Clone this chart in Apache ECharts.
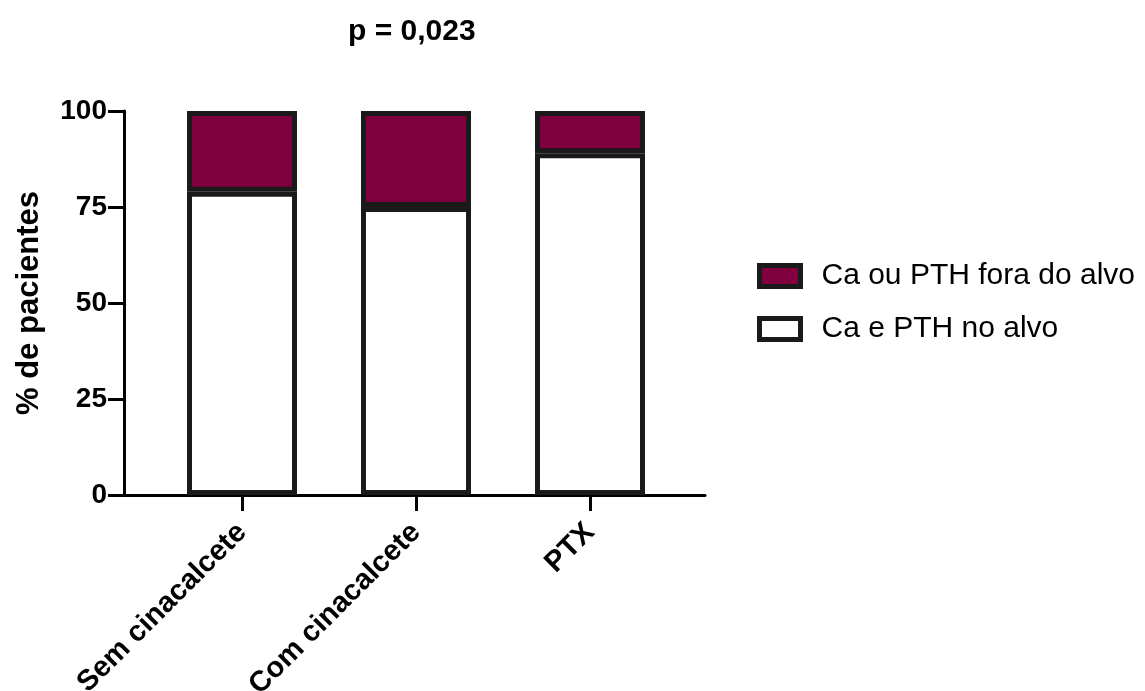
<!DOCTYPE html>
<html>
<head>
<meta charset="utf-8">
<script src="https://cdn.jsdelivr.net/npm/echarts@6/dist/echarts.min.js"></script>
<style>
html,body{margin:0;padding:0;background:#fff;}
#chart{width:1145px;height:691px;}
</style>
</head>
<body>
<div id="chart"></div>
<script>
var categories = ['Sem cinacalcete', 'Com cinacalcete', 'PTX'];
var noAlvo = [79, 75, 89];
var foraAlvo = [21, 25, 11];
var yTicks = [0, 25, 50, 75, 100];
var seriesNames = ['Ca e PTH no alvo', 'Ca ou PTH fora do alvo'];
var titleText = 'p = 0,023';
var yName = '% de pacientes';

var FONT = 'Liberation Sans, Arial, sans-serif';

var chart = echarts.init(document.getElementById('chart'), null, {renderer: 'canvas'});
chart.setOption({
  animation: false,
  backgroundColor: '#ffffff',
  title: {
    text: titleText,
    left: 348,
    top: 17,
    padding: 0,
    textStyle: {fontFamily: FONT, fontSize: 30, fontWeight: 'bold', color: '#000', lineHeight: 30}
  },
  legend: {
    orient: 'vertical',
    left: 757,
    top: 261,
    padding: 0,
    itemWidth: 41,
    itemHeight: 21,
    itemGap: 23,
    icon: 'rect',
    data: [seriesNames[1], seriesNames[0]],
    itemStyle: {borderWidth: 5, borderColor: '#1a1a1a'},
    textStyle: {fontFamily: FONT, fontSize: 30, color: '#000', lineHeight: 30, padding: [0, 0, 0, 16]}
  },
  grid: [
    {left: 124, right: 440, top: 111, bottom: 196, containLabel: false, outerBoundsMode: 'none'},
    {left: 155, right: 468, top: 111, bottom: 196, containLabel: false, outerBoundsMode: 'none'}
  ],
  xAxis: [
    {
      gridIndex: 0,
      type: 'value',
      min: 0,
      max: 1,
      splitLine: {show: false},
      axisLine: {show: true, onZero: false, lineStyle: {color: '#000', width: 3}},
      axisTick: {show: false},
      axisLabel: {show: false}
    },
    {
      gridIndex: 1,
      type: 'category',
      data: categories,
      boundaryGap: true,
      axisLine: {show: false, onZero: false},
      axisTick: {show: true, alignWithLabel: true, length: 16, lineStyle: {color: '#000', width: 3}},
      axisLabel: {
        show: true,
        interval: 0,
        rotate: 45,
        margin: 33,
        fontFamily: FONT, fontSize: 29, fontWeight: 'bold', color: '#000'
      }
    }
  ],
  yAxis: [
    {
      gridIndex: 0,
      type: 'value',
      min: yTicks[0],
      max: yTicks[yTicks.length - 1],
      interval: 25,
      name: yName,
      nameLocation: 'middle',
      nameGap: 79,
      nameRotate: 90,
      nameTextStyle: {fontFamily: FONT, fontSize: 31, fontWeight: 'bold', color: '#000'},
      splitLine: {show: false},
      axisLine: {show: true, onZero: false, lineStyle: {color: '#000', width: 3}},
      axisTick: {show: true, length: 16, lineStyle: {color: '#000', width: 3}},
      axisLabel: {
        margin: 17,
        fontFamily: FONT, fontSize: 28, fontWeight: 'bold', color: '#000'
      }
    },
    {
      gridIndex: 1,
      type: 'value',
      min: yTicks[0],
      max: yTicks[yTicks.length - 1],
      show: false
    }
  ],
  series: [
    {
      name: seriesNames[0],
      type: 'bar',
      xAxisIndex: 1,
      yAxisIndex: 1,
      stack: 'total',
      barWidth: 110,
      data: noAlvo,
      itemStyle: {color: '#ffffff', borderColor: '#1a1a1a', borderWidth: 5}
    },
    {
      name: seriesNames[1],
      type: 'bar',
      xAxisIndex: 1,
      yAxisIndex: 1,
      stack: 'total',
      barWidth: 110,
      data: foraAlvo,
      itemStyle: {color: '#80003f', borderColor: '#1a1a1a', borderWidth: 5}
    }
  ]
});
</script>
</body>
</html>
